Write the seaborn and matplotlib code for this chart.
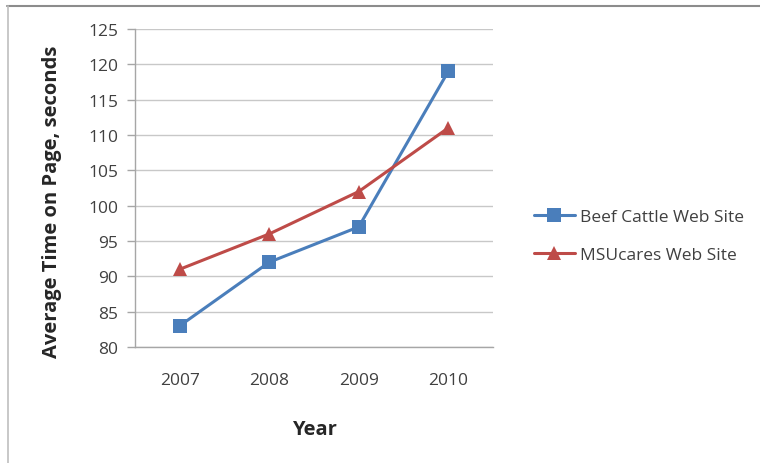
import matplotlib
matplotlib.use("Agg")
import matplotlib.pyplot as plt
import seaborn as sns
import pandas as pd
from matplotlib.lines import Line2D

years = ["2007", "2008", "2009", "2010"]
beef = [83, 92, 97, 119]
msu = [91, 96, 102, 111]
series_names = ["Beef Cattle Web Site", "MSUcares Web Site"]
y_ticks = [80, 85, 90, 95, 100, 105, 110, 115, 120, 125]

df = pd.DataFrame({
    "Year": years * 2,
    "Value": beef + msu,
    "Series": [series_names[0]] * 4 + [series_names[1]] * 4,
})

sns.set_theme(style="white")
plt.rcParams['font.family'] = ['Open Sans', 'DejaVu Sans']

fig = plt.figure(figsize=(7.6, 4.64), dpi=100)
ax = fig.add_axes([135/760, 116/464, 358/760, 318/464])

palette = {series_names[0]: "#4a7ebb", series_names[1]: "#be4b48"}
markers = {series_names[0]: "s", series_names[1]: "^"}
sns.lineplot(data=df, x="Year", y="Value", hue="Series", style="Series",
             palette=palette, markers=markers, dashes=False, sort=False,
             linewidth=2.2, markersize=10, markeredgewidth=0, ax=ax, legend=False)

ax.set_xlim(-0.5, 3.5)
ax.set_ylim(80, 125)
ax.set_yticks(y_ticks)
ax.set_xticks(range(len(years)))
ax.set_xticklabels(years)
ax.set_xticks([-0.5, 0.5, 1.5, 2.5, 3.5], minor=True)
ax.grid(axis="y", color="#c8c8c8", linewidth=1)
ax.set_axisbelow(True)
for s in ["top", "right"]:
    ax.spines[s].set_visible(False)
for s in ["left", "bottom"]:
    ax.spines[s].set_color("#a6a6a6")
    ax.spines[s].set_linewidth(1)
ax.tick_params(axis="x", which="major", length=0, pad=18, labelsize=12.5, labelcolor="#404040")
ax.tick_params(axis="x", which="minor", length=5, width=1, color="#a6a6a6", direction="out")
ax.tick_params(axis="y", length=6, width=1, color="#a6a6a6", direction="out", left=True,
               labelsize=12.5, labelcolor="#404040", pad=6)

ax.set_xlabel("Year", fontsize=14.5, fontweight="bold", color="#262626", labelpad=22)
ax.set_ylabel("Average Time on Page, seconds", fontsize=14.5, fontweight="bold",
              color="#262626")
ax.yaxis.set_label_coords(-0.205, 0.46)

handles = [Line2D([], [], color=palette[n], marker=markers[n], markersize=10,
                  markeredgewidth=0, linewidth=2.2) for n in series_names]
fig.legend(handles, series_names, loc="center left", bbox_to_anchor=(518/760, 1 - 237/464),
           frameon=False, fontsize=12.5, labelcolor="#404040", handlelength=2.4,
           handletextpad=0.25, labelspacing=1.25)

# chart area border (top and left visible)
fig.add_artist(Line2D([7/760, 1], [1 - 7/464, 1 - 7/464], transform=fig.transFigure,
                      color="#8c8c8c", linewidth=1.5))
fig.add_artist(Line2D([8/760, 8/760], [0, 1 - 7/464], transform=fig.transFigure,
                      color="#bfbfbf", linewidth=1.2))

fig.savefig("out.png", dpi=100)
